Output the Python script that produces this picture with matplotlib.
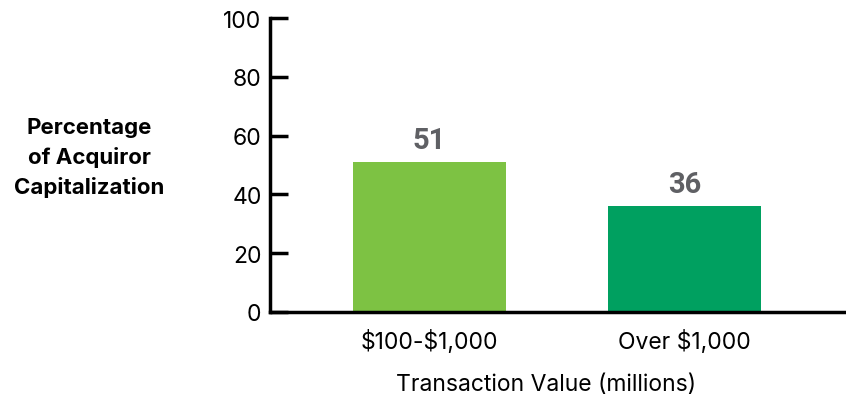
import matplotlib.pyplot as plt

categories = [r'\$100-\$1,000', r'Over \$1,000']
values = [51, 36]
colors = ['#7DC243', '#00A060']
yticks = [0, 20, 40, 60, 80, 100]

plt.rcParams['font.family'] = ['Inter', 'DejaVu Sans']

fig = plt.figure(figsize=(8.46, 4.02), dpi=100)
ax = fig.add_axes([0.319, 0.2214, 0.681, 0.7313])

x = range(len(categories))
ax.bar(x, values, width=0.6, color=colors)
for xi, v in zip(x, values):
    ax.text(xi, v + 2.8, str(v), ha='center', va='bottom', fontsize=21,
            fontweight='bold', color='#5f6064', family=['Roboto', 'DejaVu Sans'])

ax.set_xlim(-0.6255, 1.633)
ax.set_ylim(0, 100)
ax.set_yticks(yticks)
ax.set_xticks(list(x))
ax.set_xticklabels(categories, fontsize=16.5)
ax.tick_params(axis='y', direction='in', length=13, width=2.5, labelsize=16.5, pad=6)
ax.tick_params(axis='x', length=0, pad=12)
for s in ['top', 'right']:
    ax.spines[s].set_visible(False)
ax.spines['left'].set_linewidth(2.5)
ax.spines['bottom'].set_linewidth(2.5)

fig.text(0.645, 0.042, 'Transaction Value (millions)', ha='center', va='center',
         fontsize=16.5)
fig.text(0.106, 0.607, 'Percentage\nof Acquiror\nCapitalization', ha='center',
         va='center', fontsize=16, fontweight='bold', linespacing=1.55)

fig.savefig('out.png', dpi=100)
